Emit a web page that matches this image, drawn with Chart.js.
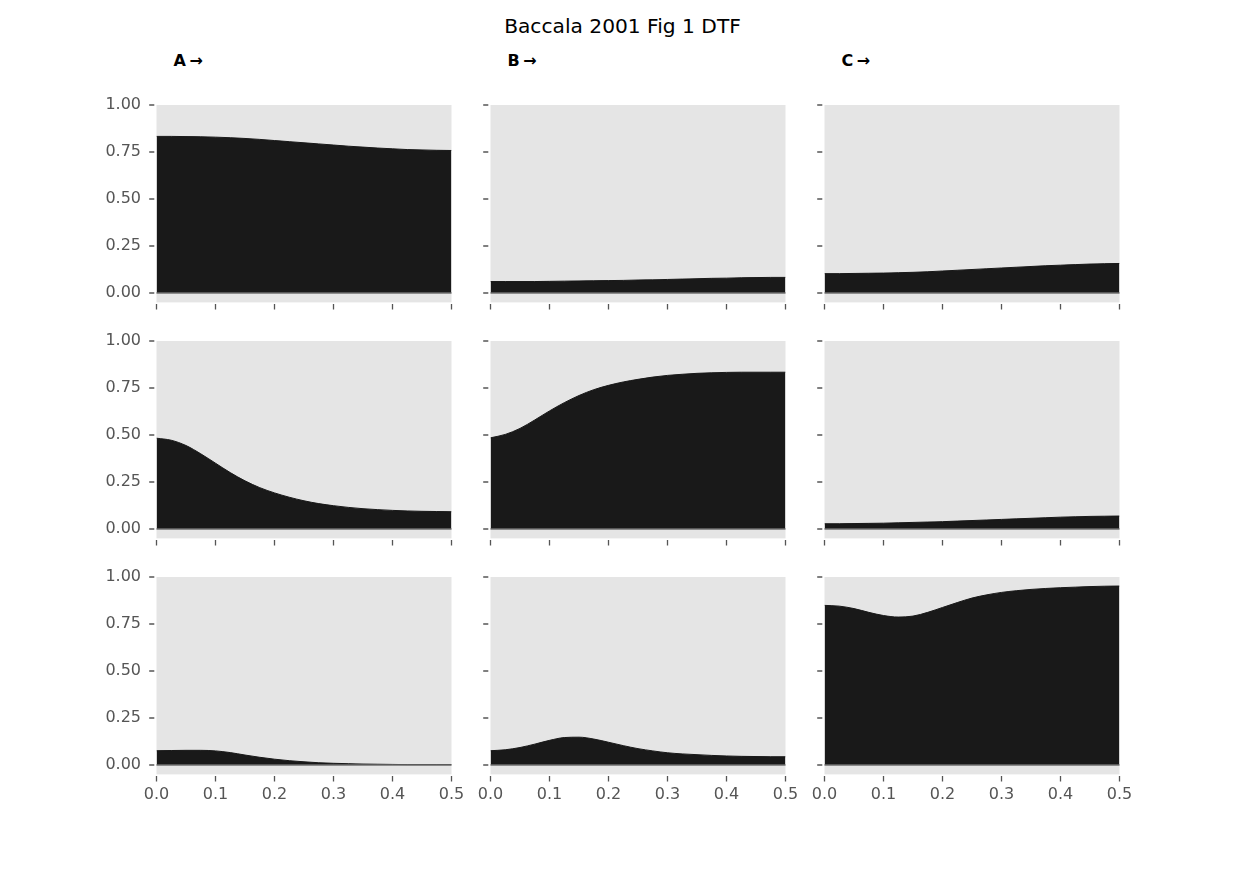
<!DOCTYPE html>
<html><head><meta charset="utf-8">
<script src="https://cdn.jsdelivr.net/npm/chart.js@4"></script>
<style>
body{margin:0;background:#fff;width:1245px;height:870px;position:relative;overflow:hidden;font-family:'DejaVu Sans',sans-serif;}
canvas{position:absolute;}
.t{position:absolute;white-space:nowrap;color:#000;font-family:'DejaVu Sans',sans-serif;}
#title{font-size:20.2px;line-height:20px;top:15.5px;left:0;width:1245px;text-align:center;}
.col{font-size:16px;font-weight:bold;line-height:16px;top:53px;letter-spacing:3.5px;}
</style></head><body>
<div id="title" class="t"></div>
<script>
// ---- data ----
const FIG_TITLE = 'Baccala 2001 Fig 1 DTF';
const COL_TITLES = ['A\u2192', 'B\u2192', 'C\u2192'];
const FREQ = [0, 0.025, 0.05, 0.075, 0.1, 0.125, 0.15, 0.175, 0.2, 0.225, 0.25,
              0.275, 0.3, 0.325, 0.35, 0.375, 0.4, 0.425, 0.45, 0.475, 0.5];
const X_TICKS = [0, 0.1, 0.2, 0.3, 0.4, 0.5];
const Y_TICKS = [0, 0.25, 0.5, 0.75, 1];

const row1_A = [.833,.833,.832,.831,.829,.826,.822,.817,.811,.805,.799,.793,.787,.781,.776,.771,.767,.763,.761,.759,.758];
const row1_B = [.061,.061,.061,.061,.062,.063,.064,.065,.066,.067,.069,.070,.072,.074,.076,.078,.079,.081,.082,.083,.083];
const row1_C = [.103,.103,.104,.105,.106,.108,.110,.113,.117,.121,.125,.129,.133,.137,.141,.145,.148,.151,.154,.156,.157];

const row2_A = [.483,.472,.444,.400,.350,.300,.256,.220,.192,.169,.150,.135,.124,.115,.108,.103,.099,.096,.094,.093,.092];
const row2_B = [.485,.503,.535,.580,.628,.672,.710,.741,.764,.782,.796,.808,.817,.823,.828,.831,.833,.834,.834,.834,.834];
const row2_C = [.028,.028,.029,.030,.031,.033,.035,.037,.039,.042,.045,.048,.051,.054,.057,.060,.063,.065,.067,.068,.069];

const row3_A = [.076,.077,.078,.078,.075,.066,.053,.041,.031,.023,.017,.012,.009,.007,.005,.004,.003,.002,.002,.002,.002];
const row3_B = [.076,.081,.093,.111,.131,.146,.148,.138,.121,.103,.087,.075,.065,.059,.055,.051,.048,.046,.045,.044,.044];
const row3_C = [.849,.845,.832,.812,.795,.787,.792,.812,.838,.864,.888,.905,.918,.927,.934,.939,.943,.946,.949,.951,.952];

const PANELS = [[row1_A, row1_B, row1_C], [row2_A, row2_B, row2_C], [row3_A, row3_B, row3_C]];

// ---- layout ----
const PLOT_LEFT = [156.5, 490.5, 824.5];
const PLOT_TOP = [105, 341, 577];
const CANVAS_LEFT = [96, 430, 764];
const PLOT_W = 295, PLOT_H = 197.4;
const CW = 376, CH = 250, PT = 12;
const TICK_COLOR = '#555555';

document.getElementById('title').textContent = FIG_TITLE;
COL_TITLES.forEach((t, c) => {
  const d = document.createElement('div');
  d.className = 't col';
  d.textContent = t;
  d.style.left = (PLOT_LEFT[c] + 17) + 'px';
  document.body.appendChild(d);
});

const decor = {
  id: 'decor',
  beforeDraw(chart) {
    const {ctx, chartArea: a} = chart;
    ctx.save();
    ctx.fillStyle = '#e5e5e5';
    ctx.fillRect(a.left, a.top, a.right - a.left, a.bottom - a.top);
    ctx.restore();
  },
  afterDatasetsDraw(chart) {
    const {ctx, chartArea: a, scales} = chart;
    const y0 = scales.y.getPixelForValue(0);
    ctx.save();
    ctx.strokeStyle = '#6e6e6e';
    ctx.lineWidth = 1.4;
    ctx.beginPath(); ctx.moveTo(a.left, y0); ctx.lineTo(a.right, y0); ctx.stroke();
    ctx.restore();
  },
  afterDraw(chart) {
    const {ctx, chartArea: a, scales} = chart;
    ctx.save();
    ctx.strokeStyle = TICK_COLOR;
    ctx.lineWidth = 1.3;
    ctx.beginPath();
    scales.x.ticks.forEach(t => {
      const px = scales.x.getPixelForValue(t.value);
      ctx.moveTo(px, a.bottom + 1.5); ctx.lineTo(px, a.bottom + 7);
    });
    scales.y.ticks.forEach(t => {
      const py = scales.y.getPixelForValue(t.value);
      ctx.moveTo(a.left - 7.3, py); ctx.lineTo(a.left - 2.2, py);
    });
    ctx.stroke();
    ctx.restore();
  }
};

function noPad(s) { s.paddingLeft = 0; s.paddingRight = 0; s.paddingTop = 0; s.paddingBottom = 0; }

for (let r = 0; r < 3; r++) {
  for (let c = 0; c < 3; c++) {
    const cv = document.createElement('canvas');
    cv.width = CW; cv.height = CH;
    cv.style.left = CANVAS_LEFT[c] + 'px';
    cv.style.top = (PLOT_TOP[r] - PT) + 'px';
    cv.style.width = CW + 'px'; cv.style.height = CH + 'px';
    document.body.appendChild(cv);
    const YW = PLOT_LEFT[c] - CANVAS_LEFT[c];
    const XH = CH - PT - PLOT_H;
    const vals = PANELS[r][c];
    new Chart(cv, {
      type: 'line',
      data: {
        datasets: [{
          data: FREQ.map((f, i) => ({x: f, y: vals[i]})),
          fill: 'origin',
          backgroundColor: '#191919',
          borderColor: '#191919',
          borderWidth: 1,
          pointRadius: 0,
          cubicInterpolationMode: 'monotone'
        }]
      },
      options: {
        responsive: false,
        animation: false,
        events: [],
        layout: {padding: {top: PT, right: CW - YW - PLOT_W, left: 0, bottom: 0}},
        plugins: {legend: {display: false}, tooltip: {enabled: false}, title: {display: false}},
        scales: {
          x: {
            type: 'linear', min: 0, max: 0.5,
            afterBuildTicks: s => { s.ticks = X_TICKS.map(v => ({value: v})); },
            afterFit: s => { s.height = XH; noPad(s); },
            grid: {display: false, drawTicks: false},
            border: {display: false},
            ticks: {
              display: r === 2, autoSkip: false, maxRotation: 0, padding: 10.5,
              color: TICK_COLOR, font: {family: 'DejaVu Sans', size: 16},
              callback: v => Number(v).toFixed(1)
            }
          },
          y: {
            type: 'linear', min: -0.05, max: 1,
            afterBuildTicks: s => { s.ticks = Y_TICKS.map(v => ({value: v})); },
            afterFit: s => { s.width = YW; noPad(s); },
            grid: {display: false, drawTicks: false},
            border: {display: false},
            ticks: {
              display: c === 0, autoSkip: false, padding: 15.5,
              color: TICK_COLOR, font: {family: 'DejaVu Sans', size: 16},
              callback: v => Number(v).toFixed(2)
            }
          }
        }
      },
      plugins: [decor]
    });
  }
}
</script>
</body></html>
